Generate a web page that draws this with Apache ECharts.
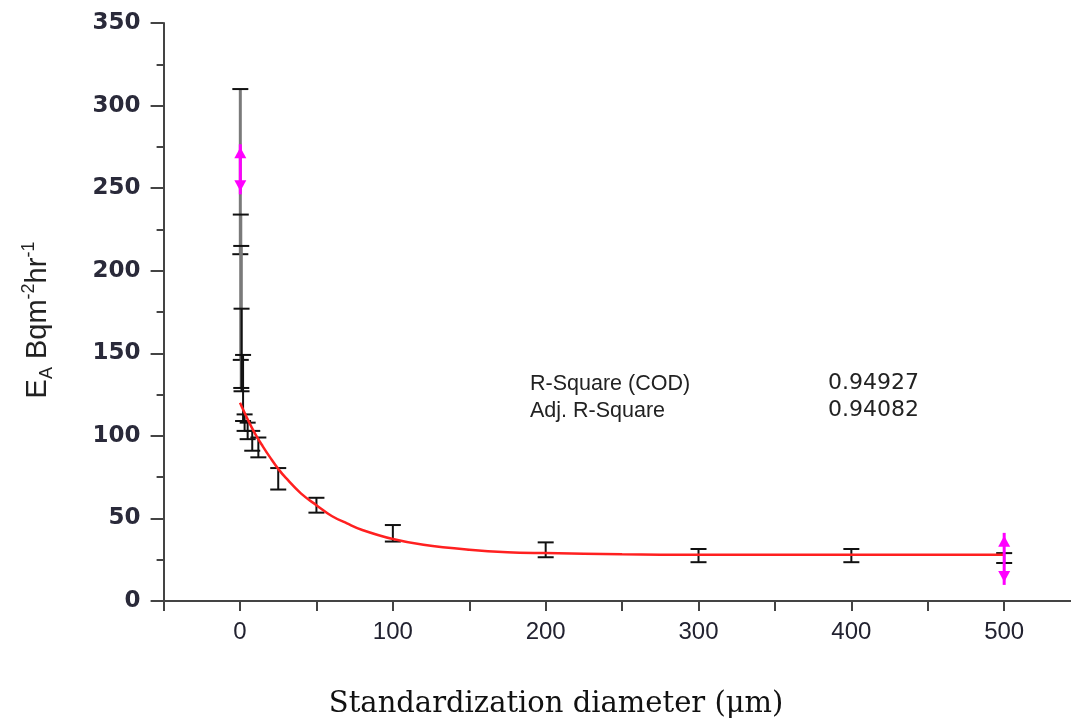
<!DOCTYPE html>
<html>
<head>
<meta charset="utf-8">
<script src="https://cdn.jsdelivr.net/npm/echarts@6/dist/echarts.min.js"></script>
<style>
html, body { margin: 0; padding: 0; background: #fff; }
#chart { width: 1071px; height: 722px; }
</style>
</head>
<body>
<div id="chart"></div>
<script>
// measured points: diameter (µm), mean E_A and error half-width
const diameters = [0.2, 0.5, 0.8, 1, 2, 3, 5, 8, 12, 25, 50, 100, 200, 300, 400, 500];
const meanValues = [260, 190, 172, 152, 129, 108, 103, 97, 93, 74, 58, 41, 31, 27.5, 27.5, 26];
const errValues = [50, 44, 43, 25, 20, 5, 5, 6, 6, 6.5, 4.5, 5, 4.5, 4, 4, 3];

// magenta arrow marks
const flagX = [0.2, 500];
const flagUpper = [270.5, 35.2];
const flagLower = [252.3, 15.8];

// red fit curve
const fitX = [0, 5, 10, 15, 20, 25, 30, 40, 50, 60, 70, 80, 100, 120, 150, 175, 200, 250, 300, 400, 500];
const fitY = [120, 110, 101, 93.5, 86.5, 80, 74.5, 65, 58, 51.5, 47, 43, 37.5, 34, 31, 29.5, 29, 28.3, 28, 28, 28];

const xTicks = [0, 100, 200, 300, 400, 500];
const yTicks = [0, 50, 100, 150, 200, 250, 300, 350];
const statNames = ['R-Square (COD)', 'Adj. R-Square'];
const statValues = ['0.94927', '0.94082'];

const barData = diameters.map((d, i) => [d, meanValues[i] - errValues[i], meanValues[i] + errValues[i]]);
const flagData = flagX.map((d, i) => [d, flagLower[i], flagUpper[i]]);
const fitData = fitX.map((d, i) => [d, fitY[i]]);

const chart = echarts.init(document.getElementById('chart'));

function renderBar(params, api) {
  const x = api.value(0);
  const top = api.coord([x, api.value(2)]);
  const bot = api.coord([x, api.value(1)]);
  const half = 8;
  const faint = params.dataIndex < 3;
  return {
    type: 'group',
    children: [
      { type: 'line', shape: { x1: top[0], y1: top[1], x2: bot[0], y2: bot[1] },
        style: { stroke: faint ? '#7a7a7a' : '#111', lineWidth: faint ? 3 : 2 } },
      { type: 'line', shape: { x1: top[0] - half, y1: top[1], x2: top[0] + half, y2: top[1] },
        style: { stroke: '#111', lineWidth: 2 } },
      { type: 'line', shape: { x1: bot[0] - half, y1: bot[1], x2: bot[0] + half, y2: bot[1] },
        style: { stroke: '#111', lineWidth: 2 } }
    ]
  };
}

function renderFlag(params, api) {
  const x = api.value(0);
  const up = api.coord([x, api.value(2)]);
  const lo = api.coord([x, api.value(1)]);
  const c = '#ff00ff';
  return {
    type: 'group',
    children: [
      { type: 'line', shape: { x1: up[0], y1: up[1] - 10, x2: lo[0], y2: lo[1] + 10 },
        style: { stroke: c, lineWidth: 3 } },
      { type: 'polygon', shape: { points: [[up[0], up[1] - 7], [up[0] - 6, up[1] + 4], [up[0] + 6, up[1] + 4]] },
        style: { fill: c } },
      { type: 'polygon', shape: { points: [[lo[0], lo[1] + 7], [lo[0] - 6, lo[1] - 4], [lo[0] + 6, lo[1] - 4]] },
        style: { fill: c } }
    ]
  };
}

const statFont = '21.5px "Liberation Sans"';
const valueFont = '22px "DejaVu Sans"';

const option = {
  backgroundColor: '#fff',
  animation: false,
  grid: { left: 163.6, top: 23, width: 917, bottom: 121, containLabel: false, outerBoundsMode: 'none' },
  xAxis: {
    type: 'value',
    min: -50,
    max: 550,
    interval: 50,
    splitLine: { show: false },
    axisLine: { onZero: false, lineStyle: { color: '#444', width: 2 } },
    axisTick: { length: 10, lineStyle: { color: '#444', width: 2 } },
    axisLabel: {
      margin: 19,
      fontFamily: 'Liberation Sans',
      fontSize: 24,
      color: '#222230',
      formatter: v => xTicks.includes(v) ? String(v) : ''
    },
    name: 'Standardization diameter (μm)',
    nameLocation: 'middle',
    nameGap: 89,
    nameTextStyle: { fontFamily: 'DejaVu Serif', fontSize: 29, color: '#111', padding: [0, 132, 0, 0] }
  },
  yAxis: {
    type: 'value',
    min: 0,
    max: 350,
    interval: 50,
    splitLine: { show: false },
    axisLine: { onZero: false, lineStyle: { color: '#444', width: 2 } },
    axisTick: { length: 13, lineStyle: { color: '#444', width: 2 } },
    minorTick: { show: true, splitNumber: 2, length: 7, lineStyle: { color: '#444', width: 2 } },
    axisLabel: {
      margin: 23,
      fontFamily: 'DejaVu Sans',
      fontWeight: 'bold',
      fontSize: 23,
      color: '#2a2a3a',
      formatter: v => yTicks.includes(v) ? String(v) : ''
    },
    name: '{b|E}{sub|A}{b| Bqm}{sup|-2}{b|hr}{sup|-1}',
    nameLocation: 'middle',
    nameGap: 108,
    nameTextStyle: {
      fontFamily: 'Liberation Sans',
      fontSize: 29,
      color: '#222',
      padding: [0, 16, 0, 0],
      rich: {
        b: { fontFamily: 'Liberation Sans', fontSize: 29, lineHeight: 36, color: '#222' },
        sub: { fontFamily: 'Liberation Sans', fontSize: 18, lineHeight: 18, verticalAlign: 'bottom', color: '#222' },
        sup: { fontFamily: 'Liberation Sans', fontSize: 18, lineHeight: 18, verticalAlign: 'top', color: '#222' }
      }
    }
  },
  graphic: [
    { type: 'text', left: 530, top: 373, style: { text: statNames[0], font: statFont, fill: '#222' } },
    { type: 'text', left: 530, top: 400, style: { text: statNames[1], font: statFont, fill: '#222' } },
    { type: 'text', left: 828, top: 372, style: { text: statValues[0], font: valueFont, fill: '#222' } },
    { type: 'text', left: 828, top: 399, style: { text: statValues[1], font: valueFont, fill: '#222' } }
  ],
  series: [
    {
      type: 'custom',
      renderItem: renderBar,
      data: barData,
      z: 2
    },
    {
      type: 'line',
      data: fitData,
      smooth: 0.4,
      showSymbol: false,
      lineStyle: { color: '#ff2020', width: 2.5 },
      z: 3
    },
    {
      type: 'custom',
      renderItem: renderFlag,
      data: flagData,
      z: 4
    }
  ]
};

chart.setOption(option);
</script>
</body>
</html>
